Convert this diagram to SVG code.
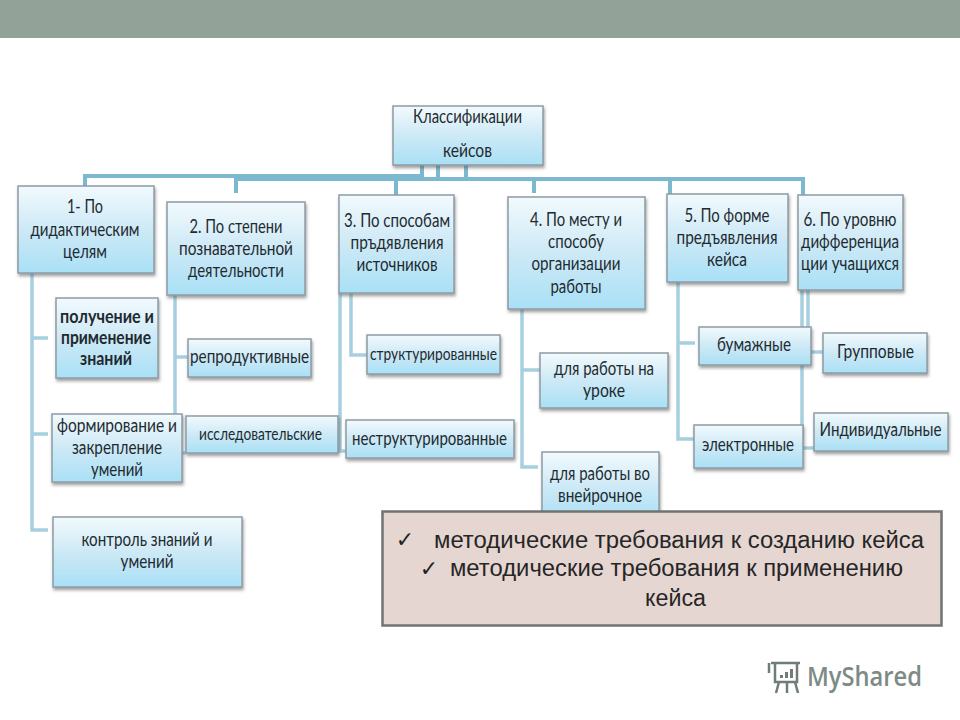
<svg xmlns="http://www.w3.org/2000/svg" width="960" height="720" viewBox="0 0 960 720">
<style>
.b{fill:url(#g);stroke:#8d9ca4;stroke-width:1.5;filter:url(#s)}
.t{font-family:"Lato","Liberation Sans",sans-serif;font-size:19.5px;fill:#1f2a30;text-anchor:middle}
.m{font-size:17.5px}
.bd{font-weight:700}
.p{font-family:"Liberation Sans",sans-serif;font-size:23px;fill:#262626;text-anchor:middle}
.c{font-family:"DejaVu Sans",sans-serif;font-size:22px;fill:#222;text-anchor:middle}
.top{fill:none;stroke:#7db8d1;stroke-width:4}
.sub{fill:none;stroke:#a6cfe0;stroke-width:3.5}
.lg{fill:none;stroke:#6f7c78;stroke-width:2.5}
</style>
<defs>
<linearGradient id="g" x1="0" y1="0" x2="0" y2="1"><stop offset="0" stop-color="#f2fafd"/><stop offset=".5" stop-color="#cde9f6"/><stop offset="1" stop-color="#a9e0f6"/></linearGradient>
<filter id="s" x="-10%" y="-10%" width="120%" height="125%"><feDropShadow dx="1" dy="2.5" stdDeviation="1.5" flood-color="#555" flood-opacity=".55"/></filter>
</defs>
<rect x="0" y="0" width="960" height="38" fill="#93a299"/>
<g id="connectors">
<path class="top" d="M85 186V176H424M236 193V179H466M396 195V179M422 165V179M438 165V179M466 165V179H803V195M534 179V193M670 179V194"/>
<path class="top" d="M236 178H424" stroke-width="6"/>
<path class="sub" d="M32 273V530H48M32 338H48M32 434H48"/>
<path class="sub" d="M175 295V414M175 357H188M182 453H186"/>
<path class="sub" d="M340 293V451H346M351 293V355H367"/>
<path class="sub" d="M522 309V467H538M522 370H540"/>
<path class="sub" d="M678 282V439H694M678 343H695"/>
<path class="sub" d="M802 290V440M808 290V327M811 352H823M803 448H814"/>
</g>
<g id="root"><rect class="b" x="393" y="106" width="150" height="59"/><text class="t" x="467.500" y="123" textLength="109" lengthAdjust="spacingAndGlyphs">Классификации</text><text class="t" x="467.500" y="157" textLength="49" lengthAdjust="spacingAndGlyphs">кейсов</text></g>
<g id="n1"><rect class="b" x="18" y="186" width="136" height="87"/><text class="t" x="85" y="213" textLength="36" lengthAdjust="spacingAndGlyphs">1- По</text><text class="t" x="85" y="236" textLength="109" lengthAdjust="spacingAndGlyphs">дидактическим</text><text class="t" x="85" y="258" textLength="44" lengthAdjust="spacingAndGlyphs">целям</text></g>
<g id="n2"><rect class="b" x="167" y="202" width="138" height="93"/><text class="t" x="236" y="233" textLength="93" lengthAdjust="spacingAndGlyphs">2. По степени</text><text class="t" x="236" y="255" textLength="114" lengthAdjust="spacingAndGlyphs">познавательной</text><text class="t" x="236" y="277" textLength="96" lengthAdjust="spacingAndGlyphs">деятельности</text></g>
<g id="n3"><rect class="b" x="339" y="195" width="115" height="98"/><text class="t" x="397" y="227" textLength="106" lengthAdjust="spacingAndGlyphs">3. По способам</text><text class="t" x="397" y="249" textLength="93" lengthAdjust="spacingAndGlyphs">пръдявления</text><text class="t" x="397" y="271" textLength="81" lengthAdjust="spacingAndGlyphs">источников</text></g>
<g id="n4"><rect class="b" x="508" y="197" width="137" height="112"/><text class="t" x="576" y="226" textLength="92" lengthAdjust="spacingAndGlyphs">4. По месту и</text><text class="t" x="576" y="248" textLength="56" lengthAdjust="spacingAndGlyphs">способу</text><text class="t" x="576" y="270" textLength="89" lengthAdjust="spacingAndGlyphs">организации</text><text class="t" x="576" y="293" textLength="51" lengthAdjust="spacingAndGlyphs">работы</text></g>
<g id="n5"><rect class="b" x="667" y="194" width="121" height="88"/><text class="t" x="727" y="222" textLength="85" lengthAdjust="spacingAndGlyphs">5. По форме</text><text class="t" x="727" y="244" textLength="101" lengthAdjust="spacingAndGlyphs">предъявления</text><text class="t" x="727" y="266" textLength="40" lengthAdjust="spacingAndGlyphs">кейса</text></g>
<g id="n6"><rect class="b" x="798" y="195" width="105" height="95"/><text class="t" x="850" y="226" textLength="93" lengthAdjust="spacingAndGlyphs">6. По уровню</text><text class="t" x="850" y="248" textLength="98" lengthAdjust="spacingAndGlyphs">дифференциа</text><text class="t" x="850" y="270" textLength="98" lengthAdjust="spacingAndGlyphs">ции учащихся</text></g>
<g id="n1a"><rect class="b" x="56" y="298" width="102" height="80"/><text class="t bd" x="107" y="323" textLength="94" lengthAdjust="spacingAndGlyphs">получение и</text><text class="t bd" x="106" y="344" textLength="90" lengthAdjust="spacingAndGlyphs">применение</text><text class="t bd" x="106" y="365" textLength="52" lengthAdjust="spacingAndGlyphs">знаний</text></g>
<g id="n1b"><rect class="b" x="52" y="414" width="130" height="68"/><text class="t" x="117" y="432" textLength="120" lengthAdjust="spacingAndGlyphs">формирование и</text><text class="t" x="117" y="454" textLength="90" lengthAdjust="spacingAndGlyphs">закрепление</text><text class="t" x="117" y="476" textLength="52" lengthAdjust="spacingAndGlyphs">умений</text></g>
<g id="n1c"><rect class="b" x="53" y="517" width="189" height="70"/><text class="t" x="147" y="546" textLength="131" lengthAdjust="spacingAndGlyphs">контроль знаний и</text><text class="t" x="147" y="568" textLength="53" lengthAdjust="spacingAndGlyphs">умений</text></g>
<g id="n2a"><rect class="b" x="188" y="339" width="123" height="38"/><text class="t" x="249.500" y="363" textLength="119" lengthAdjust="spacingAndGlyphs">репродуктивные</text></g>
<g id="n2b"><rect class="b" x="186" y="416" width="152" height="37"/><text class="t m" x="260.500" y="440" textLength="123" lengthAdjust="spacingAndGlyphs">исследовательские</text></g>
<g id="n3a"><rect class="b" x="367" y="335" width="133" height="39"/><text class="t m" x="433.500" y="360" textLength="127" lengthAdjust="spacingAndGlyphs">структурированные</text></g>
<g id="n3b"><rect class="b" x="346" y="420" width="168" height="38"/><text class="t" x="429.500" y="445" textLength="155" lengthAdjust="spacingAndGlyphs">неструктурированные</text></g>
<g id="n4a"><rect class="b" x="540" y="353" width="128" height="55"/><text class="t" x="604" y="375" textLength="100" lengthAdjust="spacingAndGlyphs">для работы на</text><text class="t" x="604" y="397" textLength="42" lengthAdjust="spacingAndGlyphs">уроке</text></g>
<g id="n4b"><rect class="b" x="542" y="452" width="117" height="70"/><text class="t" x="600" y="480" textLength="100" lengthAdjust="spacingAndGlyphs">для работы во</text><text class="t" x="600" y="502" textLength="84" lengthAdjust="spacingAndGlyphs">внейрочное</text></g>
<g id="n5a"><rect class="b" x="699" y="327" width="112" height="38"/><text class="t" x="754" y="351" textLength="74" lengthAdjust="spacingAndGlyphs">бумажные</text></g>
<g id="n5b"><rect class="b" x="694" y="425" width="109" height="43"/><text class="t" x="748" y="451" textLength="92" lengthAdjust="spacingAndGlyphs">электронные</text></g>
<g id="n6a"><rect class="b" x="823" y="333" width="104" height="40"/><text class="t" x="875.500" y="358" textLength="77" lengthAdjust="spacingAndGlyphs">Групповые</text></g>
<g id="n6b"><rect class="b" x="814" y="413" width="134" height="38"/><text class="t" x="880.500" y="436" textLength="122" lengthAdjust="spacingAndGlyphs">Индивидуальные</text></g>
<g id="note">
<rect x="382.500" y="511.500" width="559" height="114" fill="#e6d6d2" stroke="#6f7472" stroke-width="2.500"/>
<text class="c" x="405" y="547">✓</text><text class="p" x="679" y="548" textLength="490" lengthAdjust="spacingAndGlyphs">методические требования к созданию кейса</text>
<text class="c" x="429" y="576">✓</text><text class="p" x="676.500" y="576" textLength="453" lengthAdjust="spacingAndGlyphs">методические требования к применению</text>
<text class="p" x="675.500" y="606" textLength="61" lengthAdjust="spacingAndGlyphs">кейса</text>
</g>
<g id="logo">
<path class="lg" d="M771 663H800M775 663V682H797V663M779 682L776 693M787 682V693M795 682L798 693M769 663V673"/>
<path d="M780 678h3v-3h-3zM785 678h3v-6h-3zM790 678h3v-9h-3z" fill="#6f7c78"/>
<text x="807" y="686" font-family="Open Sans,Liberation Sans,sans-serif" font-size="27" font-weight="600" fill="#7d8a86" textLength="115" lengthAdjust="spacingAndGlyphs">MyShared</text>
</g>
</svg>
